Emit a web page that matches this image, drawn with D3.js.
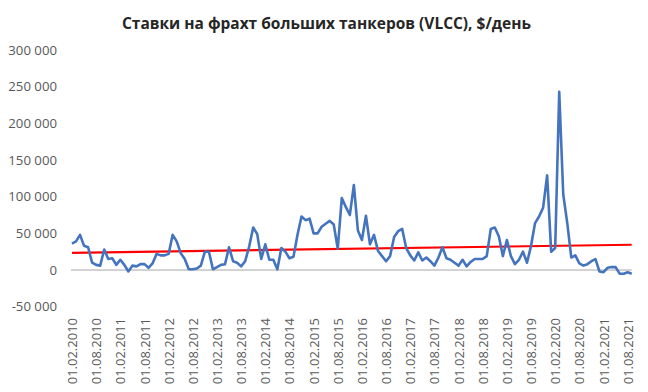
<!DOCTYPE html>
<html><head><meta charset="utf-8">
<script src="https://cdn.jsdelivr.net/npm/d3@7"></script>
<style>
html,body{margin:0;padding:0;background:#fff;}
svg{display:block;}
</style>
</head><body>
<svg id="c" width="648" height="392"></svg>
<script>
const title = "Ставки на фрахт больших танкеров (VLCC), $/день";
// monthly values, Feb 2010 – Sep 2021 ($/day)
const rates = [
  36000,39000,48000,33000,31000,10000,7000,6000,28000,15000,
  16000,7000,14000,7000,-2000,6000,5000,8000,8000,3000,
  9000,22000,20000,20000,22000,48000,39000,23000,15000,1000,
  1000,2000,6000,25000,25000,1000,4000,7000,8000,31000,
  12000,10000,5000,12000,32000,58000,49000,15000,35000,14000,
  14000,1000,30000,25000,16000,18000,48000,73000,68000,70000,
  50000,50000,59000,63000,67000,62000,29000,98000,86000,75000,
  116000,54000,41000,74000,35000,48000,26000,19000,12000,19000,
  45000,53000,56000,30000,20000,13000,24000,13000,17000,12000,
  6000,17000,31000,16000,14000,10000,6000,14000,5000,11000,
  15000,15000,15000,19000,56000,58000,46000,19000,41000,19000,
  8000,14000,25000,10000,33000,64000,73000,85000,129000,25000,
  30000,243000,103000,64000,17000,20000,9000,6000,8000,12000,
  15000,-2000,-3000,3000,4000,4000,-5000,-5000,-3000,-5000
];
const trend = [23500, 34500];            // linear trend, first and last month
const yTicks = [300000,250000,200000,150000,100000,50000,0,-50000];
const xTickLabels = [
  "01.02.2010","01.08.2010","01.02.2011","01.08.2011","01.02.2012","01.08.2012",
  "01.02.2013","01.08.2013","01.02.2014","01.08.2014","01.02.2015","01.08.2015",
  "01.02.2016","01.08.2016","01.02.2017","01.08.2017","01.02.2018","01.08.2018",
  "01.02.2019","01.08.2019","01.02.2020","01.08.2020","01.02.2021","01.08.2021"
];

const FONT = "Open Sans, Liberation Sans, Arial, sans-serif";
const svg = d3.select("#c");
const idx = d3.range(rates.length);
const x = d3.scalePoint().domain(idx).range([72, 631.7]);
const y = d3.scaleLinear().domain([-50000, 300000]).range([306.7, 50]);

// title
svg.append("text")
  .attr("x", 326.5).attr("y", 28.5)
  .attr("text-anchor", "middle")
  .attr("font-family", FONT)
  .attr("font-weight", "bold")
  .attr("font-size", 16.5)
  .attr("fill", "#262626")
  .attr("textLength", 409).attr("lengthAdjust", "spacingAndGlyphs")
  .text(title);

// y axis labels
const yAxis = d3.axisLeft(y).tickValues(yTicks).tickSize(0).tickPadding(0)
  .tickFormat(d => d3.format(",")(d).replace(/,/g, " ").replace("−", "-"));
const gy = svg.append("g").attr("transform", "translate(57,0)").call(yAxis);
gy.select(".domain").remove();
gy.selectAll("text")
  .attr("font-family", FONT)
  .attr("font-size", 13.2).attr("fill", "#595959");

// zero line
svg.append("line")
  .attr("x1", x(0) - 1).attr("x2", x(rates.length - 1))
  .attr("y1", y(0)).attr("y2", y(0))
  .attr("stroke", "#a6a6a6").attr("stroke-width", 1);

// x axis labels (every 6th month)
const tickIdx = xTickLabels.map((_, i) => i * 6);
const xAxis = d3.axisBottom(x).tickValues(tickIdx).tickSize(0)
  .tickFormat(d => xTickLabels[d / 6]);
const gx = svg.append("g").attr("transform", "translate(0,318)").call(xAxis);
gx.select(".domain").remove();
gx.selectAll("text")
  .attr("font-family", FONT)
  .attr("font-size", 13).attr("fill", "#595959")
  .attr("transform", "rotate(-90)")
  .attr("text-anchor", "end")
  .attr("x", 0).attr("y", 0).attr("dy", "0.35em");

// trend line
svg.append("line")
  .attr("x1", x(0)).attr("x2", x(rates.length - 1))
  .attr("y1", y(trend[0])).attr("y2", y(trend[1]))
  .attr("stroke", "#ff0000").attr("stroke-width", 2.2);

// series
svg.append("path")
  .datum(rates)
  .attr("fill", "none")
  .attr("stroke", "#4574bf")
  .attr("stroke-width", 2.6)
  .attr("stroke-linejoin", "round")
  .attr("d", d3.line().x((d, i) => x(i)).y(d => y(d)));
</script>
</body></html>
